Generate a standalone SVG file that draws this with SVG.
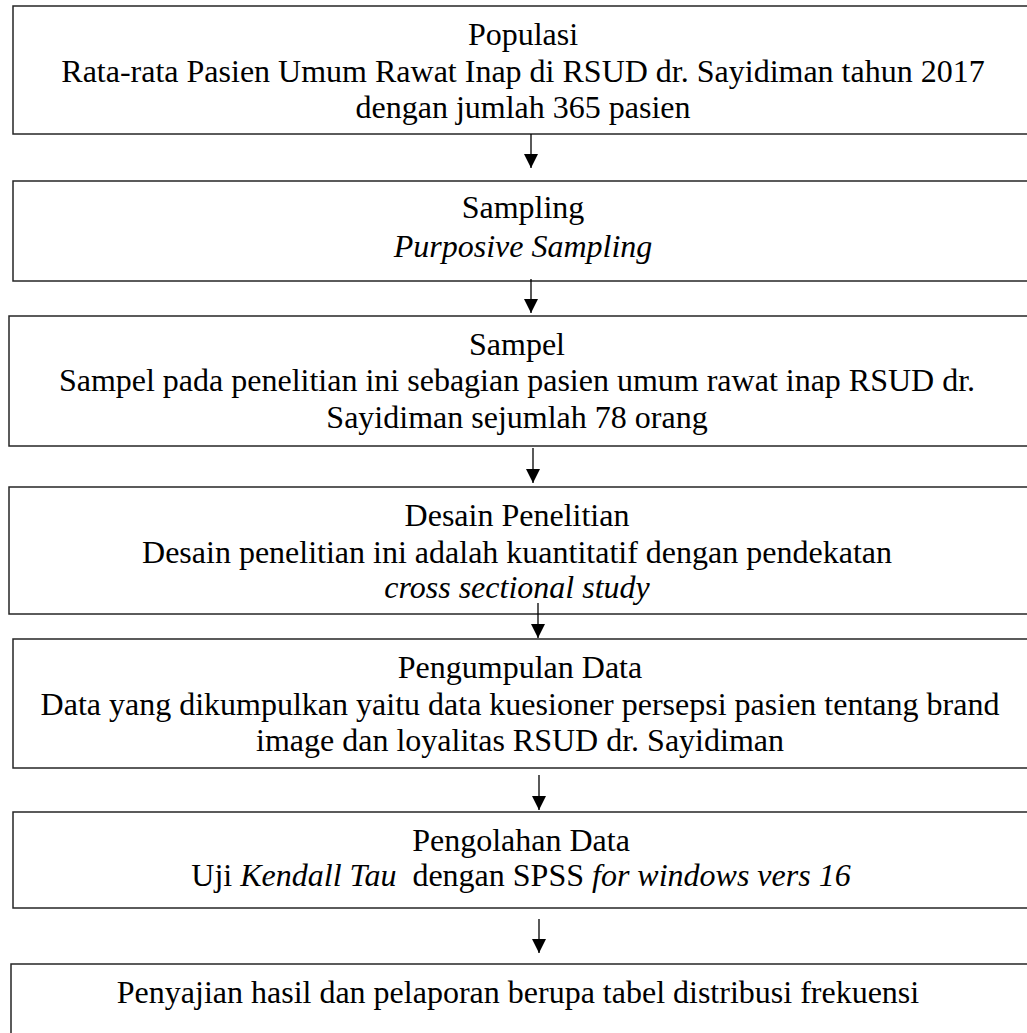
<svg xmlns="http://www.w3.org/2000/svg" width="1027" height="1033" viewBox="0 0 1027 1033">
<style>
.box{fill:#fff;stroke:#262626;stroke-width:1.5}
.t{font-family:"Liberation Serif","Times New Roman",serif;font-size:32px;fill:#000;text-anchor:middle}
.i{font-style:italic}
.c{stroke:#000;stroke-width:1.3;fill:none;marker-end:url(#ah)}
</style>
<defs>
<marker id="ah" markerUnits="userSpaceOnUse" markerWidth="14" markerHeight="14" refX="14" refY="7" orient="auto">
<path d="M0,0 L14,7 L0,14 z" fill="#000"/>
</marker>
</defs>
<rect width="1027" height="1033" fill="#fff"/>
<g id="n1">
<rect class="box" x="13" y="6" width="1030" height="128"/>
<text class="t" x="523" y="45">Populasi</text>
<text class="t" x="523" y="82">Rata-rata Pasien Umum Rawat Inap di RSUD dr. Sayidiman tahun 2017</text>
<text class="t" x="523" y="118">dengan jumlah 365 pasien</text>
</g>
<g id="n2">
<rect class="box" x="13" y="181" width="1030" height="100"/>
<text class="t" x="523" y="218">Sampling</text>
<text class="t i" x="523" y="257">Purposive Sampling</text>
</g>
<g id="n3">
<rect class="box" x="9" y="316" width="1030" height="130"/>
<text class="t" x="517" y="355">Sampel</text>
<text class="t" x="517" y="391">Sampel pada penelitian ini sebagian pasien umum rawat inap RSUD dr.</text>
<text class="t" x="517" y="428">Sayidiman sejumlah 78 orang</text>
</g>
<g id="n4">
<rect class="box" x="9" y="487" width="1030" height="127"/>
<text class="t" x="517" y="526">Desain Penelitian</text>
<text class="t" x="517" y="563">Desain penelitian ini adalah kuantitatif dengan pendekatan</text>
<text class="t i" x="517" y="598">cross sectional study</text>
</g>
<g id="n5">
<rect class="box" x="13" y="639" width="1030" height="129"/>
<text class="t" x="520" y="678">Pengumpulan Data</text>
<text class="t" x="520" y="715">Data yang dikumpulkan yaitu data kuesioner persepsi pasien tentang brand</text>
<text class="t" x="520" y="751">image dan loyalitas RSUD dr. Sayidiman</text>
</g>
<g id="n6">
<rect class="box" x="13" y="812" width="1030" height="96"/>
<text class="t" x="521" y="851">Pengolahan Data</text>
<text class="t" x="521" y="886">Uji <tspan class="i">Kendall Tau</tspan>&#160; dengan SPSS <tspan class="i">for windows vers 16</tspan></text>
</g>
<g id="n7">
<rect class="box" x="11" y="964" width="1030" height="80"/>
<text class="t" x="518" y="1003">Penyajian hasil dan pelaporan berupa tabel distribusi frekuensi</text>
</g>
<g id="connectors">
<line class="c" x1="531" y1="134" x2="531" y2="168"/>
<line class="c" x1="531" y1="279" x2="531" y2="313"/>
<line class="c" x1="533" y1="448" x2="533" y2="483"/>
<line class="c" x1="538" y1="603" x2="538" y2="638"/>
<line class="c" x1="539" y1="775" x2="539" y2="810"/>
<line class="c" x1="539" y1="919" x2="539" y2="953"/>
</g>
</svg>
